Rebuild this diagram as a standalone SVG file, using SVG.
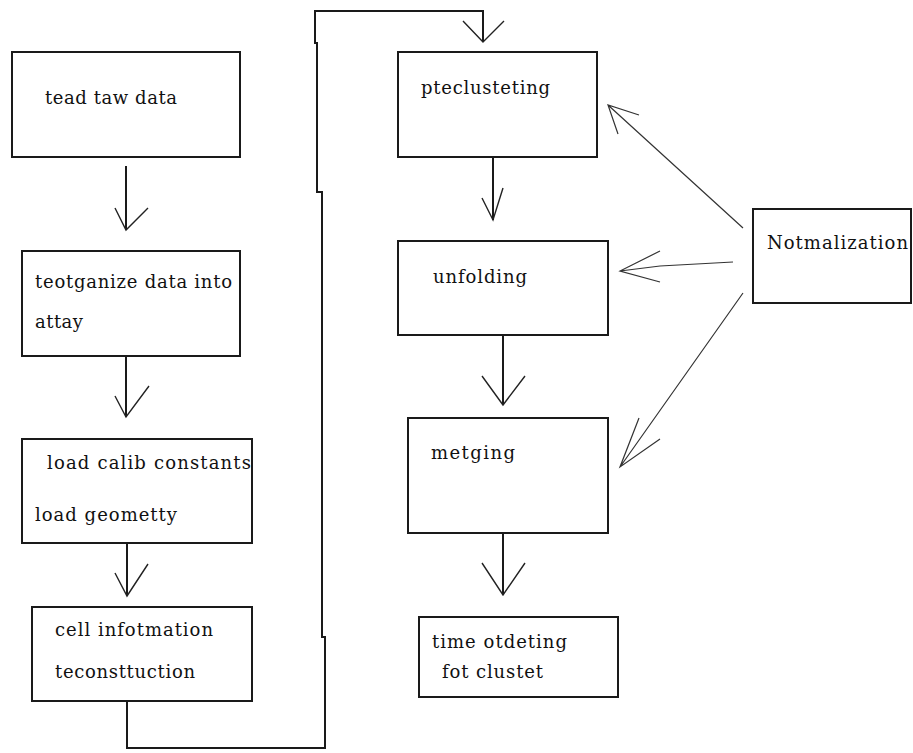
<svg xmlns="http://www.w3.org/2000/svg" width="913" height="753" viewBox="0 0 913 753">
  <style>
    .box { fill: #fff; stroke: #1a1a1a; stroke-width: 2; }
    .lbl { font-family: "DejaVu Serif", "Liberation Serif", serif; font-size: 18px; fill: #111; }
    .flow { fill: none; stroke: #1a1a1a; stroke-width: 2; }
    .head { fill: none; stroke: #222; stroke-width: 1.4; }
    .thin { fill: none; stroke: #333; stroke-width: 1.2; }
  </style>
  <rect width="913" height="753" fill="#fff"/>

  <!-- processing chain, left column -->
  <g id="read-raw">
    <rect class="box" x="12" y="52" width="228" height="105"/>
    <text class="lbl" x="45" y="104" textLength="132" lengthAdjust="spacing">tead taw data</text>
  </g>
  <g id="reorganize">
    <rect class="box" x="22" y="251" width="218" height="105"/>
    <text class="lbl" x="35" y="288" textLength="197" lengthAdjust="spacing">teotganize data into</text>
    <text class="lbl" x="35" y="328" textLength="48" lengthAdjust="spacing">attay</text>
  </g>
  <g id="load-calib">
    <rect class="box" x="22" y="439" width="230" height="104"/>
    <text class="lbl" x="47" y="469" textLength="204" lengthAdjust="spacing">load calib constants</text>
    <text class="lbl" x="35" y="521" textLength="142" lengthAdjust="spacing">load geometty</text>
  </g>
  <g id="cell-info">
    <rect class="box" x="32" y="607" width="220" height="94"/>
    <text class="lbl" x="55" y="636" textLength="158" lengthAdjust="spacing">cell infotmation</text>
    <text class="lbl" x="55" y="678" textLength="140" lengthAdjust="spacing">teconsttuction</text>
  </g>

  <!-- clustering chain, middle column -->
  <g id="preclustering">
    <rect class="box" x="398" y="52" width="199" height="105"/>
    <text class="lbl" x="421" y="94" textLength="129" lengthAdjust="spacing">pteclusteting</text>
  </g>
  <g id="unfolding">
    <rect class="box" x="398" y="241" width="210" height="94"/>
    <text class="lbl" x="433" y="283" textLength="94" lengthAdjust="spacing">unfolding</text>
  </g>
  <g id="merging">
    <rect class="box" x="408" y="418" width="200" height="115"/>
    <text class="lbl" x="431" y="459" textLength="84" lengthAdjust="spacing">metging</text>
  </g>
  <g id="time-ordering">
    <rect class="box" x="419" y="617" width="199" height="80"/>
    <text class="lbl" x="432" y="648" textLength="135" lengthAdjust="spacing">time otdeting</text>
    <text class="lbl" x="442" y="678" textLength="101" lengthAdjust="spacing">fot clustet</text>
  </g>

  <!-- side input -->
  <g id="normalization">
    <rect class="box" x="753" y="209" width="158" height="94"/>
    <text class="lbl" x="767" y="249" textLength="141" lengthAdjust="spacing">Notmalization</text>
  </g>

  <g id="connectors">
    <!-- left column -->
    <path class="flow" d="M126 166 V230"/>
    <path class="head" d="M115 208 L126 230 L148 208"/>
    <path class="flow" d="M126 356 V417"/>
    <path class="head" d="M115 396 L126 417 L149 386"/>
    <path class="flow" d="M127 543 V596"/>
    <path class="head" d="M115 573 L127 596 L148 564"/>
    <!-- loop from the bottom of the left column to the top of the middle column -->
    <path class="flow" d="M127 701 V748 H325 V637 H322 V192 H317 V43 H315 V11 H483 V42"/>
    <path class="head" d="M463 21 L483 42 L504 21"/>
    <!-- middle column -->
    <path class="flow" d="M493 157 V220"/>
    <path class="head" d="M482 198 L493 220 L503 188"/>
    <path class="flow" d="M503 335 V405"/>
    <path class="head" d="M482 376 L503 405 L525 376"/>
    <path class="flow" d="M503 533 V595"/>
    <path class="head" d="M482 563 L503 595 L525 563"/>
    <!-- normalization feeds -->
    <path class="thin" d="M743 228 L608 105 M639 115 L608 105 L618 134"/>
    <path class="thin" d="M733 262 L660 266 L620 271 M660 251 L620 271 L660 282"/>
    <path class="thin" d="M743 293 L620 467 M639 418 L620 467 L660 439"/>
  </g>
</svg>
